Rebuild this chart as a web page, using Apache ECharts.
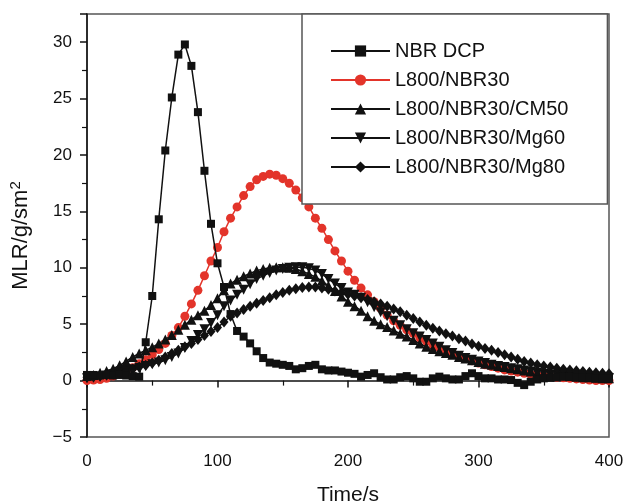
<!DOCTYPE html>
<html>
<head>
<meta charset="utf-8">
<title>MLR</title>
<script src="https://cdn.jsdelivr.net/npm/echarts@6/dist/echarts.min.js"></script>
<style>
    html, body { margin: 0; padding: 0; background: #fff; }
    #chart-mlr { width: 625px; height: 504px; }
</style>
</head>
<body>
<div id="chart-mlr"></div>
<script>
    // time axis (s), one sample every 5 s
    var times = [0, 5, 10, 15, 20, 25, 30, 35, 40, 45, 50, 55, 60, 65, 70, 75, 80, 85, 90, 95,
        100, 105, 110, 115, 120, 125, 130, 135, 140, 145, 150, 155, 160, 165, 170, 175, 180, 185, 190, 195,
        200, 205, 210, 215, 220, 225, 230, 235, 240, 245, 250, 255, 260, 265, 270, 275, 280, 285, 290, 295,
        300, 305, 310, 315, 320, 325, 330, 335, 340, 345, 350, 355, 360, 365, 370, 375, 380, 385, 390, 395, 400];

    var seriesNames = ['NBR DCP', 'L800/NBR30', 'L800/NBR30/CM50', 'L800/NBR30/Mg60', 'L800/NBR30/Mg80'];

    var nbrDcp = [0.5, 0.5, 0.45, 0.5, 0.45, 0.5, 0.45, 0.4, 0.35, 3.4, 7.5, 14.3, 20.4, 25.1, 28.9, 29.8, 27.9, 23.8, 18.6, 13.9,
        10.4, 8.3, 5.9, 4.4, 3.9, 3.3, 2.6, 2.0, 1.6, 1.5, 1.4, 1.3, 1.0, 1.1, 1.3, 1.4, 1.0, 0.9, 0.9, 0.8,
        0.7, 0.6, 0.35, 0.5, 0.65, 0.3, 0.1, 0.1, 0.3, 0.4, 0.2, -0.1, -0.1, 0.2, 0.35, 0.2, 0.1, 0.1, 0.4, 0.65,
        0.4, 0.2, 0.2, 0.1, 0.1, 0.05, -0.2, -0.4, -0.1, 0.1, 0.2, 0.25, 0.3, 0.35, 0.35, 0.3, 0.3, 0.25, 0.2, 0.2, 0.2];

    var l800Nbr30 = [0.0, 0.05, 0.1, 0.2, 0.4, 0.6, 0.85, 1.15, 1.5, 1.85, 2.3, 2.75, 3.3, 4.0, 4.7, 5.7, 6.8, 8.0, 9.3, 10.6,
        11.8, 13.2, 14.4, 15.4, 16.4, 17.2, 17.8, 18.1, 18.3, 18.2, 17.9, 17.5, 16.9, 16.2, 15.4, 14.4, 13.5, 12.5, 11.5, 10.6,
        9.7, 8.9, 8.2, 7.6, 7.0, 6.4, 5.8, 5.3, 4.9, 4.5, 4.2, 3.8, 3.5, 3.2, 2.9, 2.6, 2.4, 2.15, 1.95, 1.75,
        1.55, 1.4, 1.25, 1.1, 0.95, 0.85, 0.75, 0.65, 0.55, 0.45, 0.4, 0.35, 0.3, 0.25, 0.2, 0.15, 0.1, 0.05, 0.0, 0.0, 0.0];

    var cm50 = [0.4, 0.5, 0.7, 0.85, 1.05, 1.35, 1.7, 2.1, 2.4, 2.7, 2.95, 3.3, 3.65, 4.05, 4.5, 4.95, 5.4, 5.8, 6.2, 6.7,
        7.3, 8.0, 8.6, 8.95, 9.25, 9.5, 9.75, 9.9, 10.0, 10.05, 10.05, 10.0, 9.9, 9.7, 9.45, 9.2, 8.85, 8.4, 7.95, 7.45,
        7.0, 6.6, 6.2, 5.7, 5.3, 5.0, 4.75, 4.45, 4.15, 3.9, 3.6, 3.3, 3.0, 2.8, 2.6, 2.45, 2.3, 2.1, 1.95, 1.8,
        1.65, 1.5, 1.4, 1.3, 1.2, 1.1, 1.0, 0.9, 0.8, 0.7, 0.6, 0.55, 0.5, 0.45, 0.4, 0.35, 0.3, 0.3, 0.25, 0.2, 0.2];

    var mg60 = [0.2, 0.25, 0.35, 0.45, 0.55, 0.7, 0.85, 1.0, 1.15, 1.3, 1.45, 1.6, 1.8, 2.1, 2.4, 2.9, 3.5, 4.05, 4.55, 5.1,
        5.8, 6.6, 7.1, 7.6, 8.05, 8.55, 9.0, 9.3, 9.55, 9.75, 9.9, 10.0, 10.05, 10.05, 9.95, 9.75, 9.45, 9.0, 8.6, 8.2,
        7.8, 7.6, 7.35, 6.95, 6.5, 6.05, 5.7, 5.3, 4.9, 4.55, 4.2, 3.9, 3.6, 3.3, 3.0, 2.7, 2.45, 2.2, 2.0, 1.85,
        1.7, 1.55, 1.4, 1.3, 1.2, 1.1, 1.0, 0.9, 0.8, 0.7, 0.6, 0.55, 0.5, 0.45, 0.4, 0.35, 0.35, 0.3, 0.25, 0.2, 0.2];

    var mg80 = [0.3, 0.35, 0.4, 0.5, 0.6, 0.7, 0.85, 1.0, 1.2, 1.35, 1.55, 1.8, 2.1, 2.4, 2.7, 3.0, 3.3, 3.65, 4.0, 4.35,
        4.7, 5.2, 5.7, 6.0, 6.3, 6.6, 6.85, 7.1, 7.35, 7.6, 7.8, 8.0, 8.15, 8.25, 8.3, 8.3, 8.2, 8.1, 7.95, 7.8,
        7.65, 7.5, 7.35, 7.2, 7.0, 6.8, 6.6, 6.35, 6.1, 5.8, 5.5, 5.2, 4.9, 4.65, 4.4, 4.15, 3.95, 3.7, 3.5, 3.25,
        3.05, 2.85, 2.7, 2.5, 2.3, 2.1, 1.9, 1.7, 1.55, 1.4, 1.3, 1.2, 1.1, 1.0, 0.95, 0.88, 0.8, 0.75, 0.7, 0.65, 0.6];

    var seriesValues = [nbrDcp, l800Nbr30, cm50, mg60, mg80];
    var seriesColors = ['#111111', '#e3342a', '#111111', '#111111', '#111111'];
    var seriesSymbols = ['rect', 'circle', 'triangle', 'path://M0,0 L10,0 L5,10 Z', 'diamond'];
    var symbolSizes = [8, 9, 10, 10, [9, 11]];

    function pairs(vals) {
        return times.map(function (t, i) { return [t, vals[i]]; });
    }

    var font = 'Liberation Sans, Arial, Helvetica, sans-serif';

    var series = seriesNames.map(function (name, k) {
        return {
            name: name,
            type: 'line',
            data: pairs(seriesValues[k]),
            symbol: seriesSymbols[k],
            symbolSize: symbolSizes[k],
            showAllSymbol: true,
            itemStyle: { color: seriesColors[k] },
            lineStyle: { color: seriesColors[k], width: 1.5 },
            z: k === 0 ? 5 : 3
        };
    });

    var option = {
        animation: false,
        backgroundColor: '#fff',
        grid: {
            left: 87,
            right: 16,
            top: 14,
            bottom: 67,
            outerBoundsMode: 'none',   // keep the plot box fixed, labels may sit outside
            show: true,
            borderColor: '#555',
            borderWidth: 1.5,
            backgroundColor: 'transparent'
        },
        legend: {
            orient: 'vertical',
            left: 302,
            top: 14,
            data: seriesNames,
            itemWidth: 59,
            itemHeight: 14,
            itemGap: 9,
            padding: [27, 39, 27, 28],
            borderColor: '#555',
            borderWidth: 1.5,
            backgroundColor: '#fff',
            textStyle: { fontFamily: font, fontSize: 20, color: '#111' }
        },
        xAxis: {
            type: 'value',
            min: 0,
            max: 400,
            interval: 100,
            name: 'Time/s',
            nameLocation: 'middle',
            nameGap: 48,
            nameTextStyle: { fontFamily: font, fontSize: 21, color: '#111' },
            axisLine: { lineStyle: { color: '#111', width: 1.5 } },
            axisTick: { length: 7, lineStyle: { color: '#111', width: 1.5 } },
            minorTick: { show: true, splitNumber: 2, length: 5, lineStyle: { color: '#111', width: 1.2 } },
            axisLabel: { fontFamily: font, fontSize: 17, color: '#111', margin: 16 },
            splitLine: { show: false }
        },
        yAxis: {
            type: 'value',
            min: -5,
            max: 32.5,
            interval: 5,
            name: 'MLR/g/sm{sup|2}',
            nameLocation: 'middle',
            nameGap: 54,
            nameRotate: 90,
            nameTextStyle: {
                fontFamily: font, fontSize: 22, color: '#111',
                padding: [0, 20, 0, 0],
                rich: { sup: { fontFamily: font, fontSize: 15, color: '#111', verticalAlign: 'top', padding: [0, 0, 10, 0] } }
            },
            axisLine: { lineStyle: { color: '#111', width: 1.5 } },
            axisTick: { length: 7, lineStyle: { color: '#111', width: 1.5 } },
            minorTick: { show: true, splitNumber: 2, length: 5, lineStyle: { color: '#111', width: 1.2 } },
            axisLabel: {
                fontFamily: font, fontSize: 17, color: '#111', margin: 15,
                formatter: function (v) {
                    if (v % 5 !== 0) return '';
                    return v < 0 ? '\u2212' + Math.abs(v) : String(v);
                }
            },
            splitLine: { show: false }
        },
        series: series
    };

    var chartMlr = echarts.init(document.getElementById('chart-mlr'));
    chartMlr.setOption(option);
</script>
</body>
</html>
